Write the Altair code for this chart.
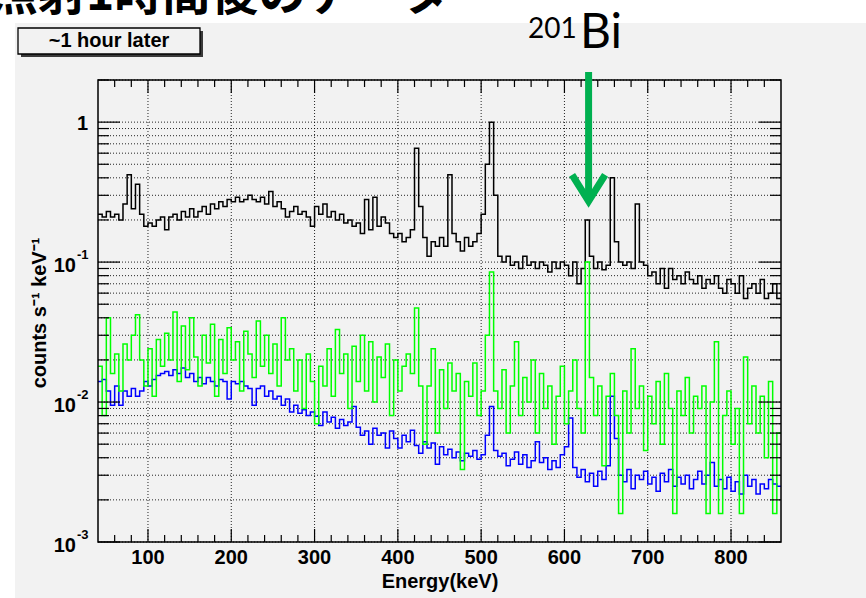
import altair as alt
import pandas as pd

# ---------------- data ----------------
E_START = 40      # keV, left edge of first bin
BIN_W = 5         # keV per bin

black_counts = [
    0.22, 0.21, 0.23, 0.21, 0.22, 0.20, 0.26, 0.42, 0.24, 0.36,
    0.22, 0.18, 0.19, 0.18, 0.20, 0.21, 0.17, 0.21, 0.22, 0.20,
    0.23, 0.21, 0.24, 0.21, 0.23, 0.25, 0.22, 0.26, 0.24, 0.27,
    0.25, 0.28, 0.27, 0.29, 0.27, 0.28, 0.30, 0.28, 0.27, 0.29,
    0.26, 0.32, 0.25, 0.27, 0.24, 0.21, 0.23, 0.25, 0.22, 0.23,
    0.21, 0.18, 0.25, 0.22, 0.26, 0.21, 0.23, 0.20, 0.22, 0.19,
    0.20, 0.18, 0.19, 0.16, 0.28, 0.17, 0.29, 0.18, 0.21, 0.19,
    0.16, 0.15, 0.16, 0.14, 0.15, 0.17, 0.65, 0.25, 0.15, 0.11,
    0.14, 0.13, 0.15, 0.13, 0.42, 0.16, 0.14, 0.12, 0.15, 0.13,
    0.14, 0.16, 0.22, 0.50, 1.00, 0.30, 0.11, 0.10, 0.11, 0.095,
    0.10, 0.09, 0.11, 0.095, 0.10, 0.09, 0.10, 0.095, 0.085, 0.10,
    0.09, 0.10, 0.095, 0.08, 0.10, 0.07, 0.09, 0.20, 0.11, 0.09,
    0.10, 0.088, 0.095, 0.40, 0.14, 0.10, 0.095, 0.10, 0.09, 0.26,
    0.10, 0.095, 0.08, 0.085, 0.07, 0.09, 0.065, 0.09, 0.075, 0.08,
    0.07, 0.085, 0.075, 0.07, 0.08, 0.065, 0.075, 0.07, 0.08, 0.065,
    0.06, 0.075, 0.07, 0.06, 0.08, 0.055, 0.065, 0.07, 0.06, 0.075,
    0.055, 0.06, 0.07, 0.055,
]

green_counts = [
    0.018, 0.008, 0.04, 0.016, 0.022, 0.012, 0.026, 0.02, 0.03, 0.042,
    0.02, 0.013, 0.024, 0.011, 0.028, 0.018, 0.031, 0.02, 0.044, 0.014,
    0.035, 0.017, 0.04, 0.021, 0.013, 0.03, 0.019, 0.036, 0.011, 0.028,
    0.016, 0.034, 0.02, 0.027, 0.012, 0.032, 0.022, 0.015, 0.038, 0.018,
    0.03, 0.016, 0.026, 0.013, 0.04, 0.02, 0.024, 0.012, 0.02, 0.009,
    0.022, 0.014, 0.007, 0.018, 0.013, 0.024, 0.011, 0.033, 0.016, 0.022,
    0.009, 0.025, 0.014, 0.03, 0.012, 0.027, 0.01, 0.021, 0.015, 0.026,
    0.008, 0.02, 0.012, 0.018, 0.022, 0.016, 0.047, 0.013, 0.005, 0.013,
    0.024, 0.006, 0.017, 0.009, 0.019, 0.012, 0.016, 0.0033, 0.014, 0.011,
    0.019, 0.008, 0.012, 0.03, 0.085, 0.012, 0.009, 0.017, 0.006, 0.013,
    0.027, 0.008, 0.015, 0.01, 0.02, 0.006, 0.016, 0.009, 0.013, 0.005,
    0.011, 0.018, 0.007, 0.012, 0.02, 0.009, 0.006, 0.1, 0.015, 0.008,
    0.013, 0.0035, 0.011, 0.016, 0.008, 0.0016, 0.012, 0.006, 0.024, 0.009,
    0.013, 0.0045, 0.011, 0.007, 0.014, 0.005, 0.016, 0.009, 0.0016, 0.012,
    0.008, 0.015, 0.006, 0.011, 0.009, 0.013, 0.0016, 0.01, 0.027, 0.0016,
    0.008, 0.012, 0.005, 0.009, 0.0016, 0.021, 0.007, 0.013, 0.006, 0.011,
    0.004, 0.014, 0.0016, 0.006,
]

blue_counts = [
    0.014, 0.0145, 0.012, 0.0095, 0.013, 0.0095, 0.012, 0.011, 0.0125, 0.011,
    0.012, 0.014, 0.013, 0.0145, 0.0155, 0.016, 0.0165, 0.0155, 0.017, 0.016,
    0.0175, 0.015, 0.016, 0.014, 0.015, 0.0135, 0.015, 0.014, 0.013, 0.0145,
    0.014, 0.0105, 0.014, 0.0135, 0.014, 0.013, 0.0125, 0.0095, 0.0125, 0.013,
    0.011, 0.012, 0.0105, 0.011, 0.0095, 0.0105, 0.0085, 0.0095, 0.0083, 0.0088,
    0.008, 0.0085, 0.0079, 0.0068, 0.0085, 0.0072, 0.0078, 0.0065, 0.0075, 0.0068,
    0.0072, 0.0093, 0.0066, 0.0058, 0.0062, 0.005, 0.0065, 0.0058, 0.006, 0.0047,
    0.0062, 0.0055, 0.0047, 0.0058, 0.0052, 0.0063, 0.0049, 0.0043, 0.0052, 0.0047,
    0.0051, 0.0036, 0.0048, 0.0042, 0.0046, 0.004, 0.0044, 0.0038, 0.0043, 0.0041,
    0.0045, 0.0039, 0.0042, 0.0058, 0.0093, 0.0045, 0.0041, 0.0043, 0.0035, 0.0039,
    0.0044, 0.0036, 0.0042, 0.0034, 0.0038, 0.0052, 0.0037, 0.004, 0.0033, 0.0038,
    0.0034, 0.0042, 0.0048, 0.0077, 0.0034, 0.0029, 0.0033, 0.0027, 0.0031, 0.0025,
    0.0032, 0.0028, 0.0035, 0.011, 0.0055, 0.003, 0.0027, 0.0033, 0.0024, 0.003,
    0.0028, 0.0032, 0.0026, 0.0029, 0.0023, 0.0031, 0.0027, 0.0033, 0.0025, 0.0029,
    0.0026, 0.003, 0.0024, 0.0028, 0.0032, 0.0026, 0.003, 0.0037, 0.0025, 0.0028,
    0.0024, 0.0029, 0.0023, 0.0027, 0.0022, 0.003, 0.0025, 0.0028, 0.0022, 0.0026,
    0.0024, 0.0028, 0.0026, 0.0025,
]

x_major = [100, 200, 300, 400, 500, 600, 700, 800]
x_labels = ["100", "200", "300", "400", "500", "600", "700", "800"]
x_minor = [60, 80, 120, 140, 160, 180, 220, 240, 260, 280, 320, 340, 360, 380,
           420, 440, 460, 480, 520, 540, 560, 580, 620, 640, 660, 680,
           720, 740, 760, 780, 820, 840]
y_decades = [0.001, 0.01, 0.1, 1]
y_minor = [0.002, 0.003, 0.004, 0.005, 0.006, 0.007, 0.008, 0.009,
           0.02, 0.03, 0.04, 0.05, 0.06, 0.07, 0.08, 0.09,
           0.2, 0.3, 0.4, 0.5, 0.6, 0.7, 0.8, 0.9, 2]
y_label_vals = [0.001, 0.01, 0.1]
y_label_base = ["10", "10", "10"]
y_label_exp = ["-3", "-2", "-1"]
bi_line_keV = [629]

# ---------------- layout ----------------
W, H = 683, 462
PAD_L, PAD_T, PAD_R, PAD_B = 98, 80, 85, 56
PAD_GRAY = "#f2f2f2"
FONT = "Liberation Sans"

xs = alt.Scale(domain=[40, 860], nice=False, zero=False)
ys = alt.Scale(type="log", domain=[0.001, 2], nice=False)


def hist_df(vals):
    edges = [E_START + BIN_W * i for i in range(len(vals) + 1)]
    return pd.DataFrame({"E": edges, "v": list(vals) + [vals[-1]]})


one = pd.DataFrame({"a": [0]})

bg = alt.Chart(one).mark_rect(color=PAD_GRAY).encode(
    x=alt.value(15 - PAD_L), x2=alt.value(866 - PAD_L),
    y=alt.value(23 - PAD_T), y2=alt.value(598 - PAD_T))

hgrid = alt.Chart(pd.DataFrame({"y": y_minor + y_decades})).mark_rule(
    color="#000", strokeWidth=1, strokeDash=[1, 2], opacity=0.85).encode(
    y=alt.Y("y:Q", scale=ys, axis=None), x=alt.value(0), x2=alt.value(W))

vgrid = alt.Chart(pd.DataFrame({"x": x_major})).mark_rule(
    color="#000", strokeWidth=1, strokeDash=[1, 2], opacity=0.85).encode(
    x=alt.X("x:Q", scale=xs, axis=None), y=alt.value(0), y2=alt.value(H))


def spectrum(vals, color):
    return alt.Chart(hist_df(vals)).mark_line(
        interpolate="step-after", color=color, strokeWidth=1.5, clip=True).encode(
        x=alt.X("E:Q", scale=xs, axis=None),
        y=alt.Y("v:Q", scale=ys, axis=None))


black = spectrum(black_counts, "#000000")
blue = spectrum(blue_counts, "#0000ff")
green = spectrum(green_counts, "#00ff00")


def xticks(vals, y0, y1):
    return alt.Chart(pd.DataFrame({"x": vals})).mark_rule(color="#000", strokeWidth=1.2).encode(
        x=alt.X("x:Q", scale=xs, axis=None), y=alt.value(y0), y2=alt.value(y1))


def yticks(vals, x0, x1):
    return alt.Chart(pd.DataFrame({"y": vals})).mark_rule(color="#000", strokeWidth=1.2).encode(
        y=alt.Y("y:Q", scale=ys, axis=None), x=alt.value(x0), x2=alt.value(x1))


ticks = [
    xticks(x_major, H, H - 13), xticks(x_minor, H, H - 7),
    xticks(x_major, 0, 13), xticks(x_minor, 0, 7),
    yticks(y_decades, 0, 22), yticks(y_minor, 0, 11),
    yticks(y_decades, W, W - 22), yticks(y_minor, W, W - 11),
]

xlab = alt.Chart(pd.DataFrame({"x": x_major, "t": x_labels})).mark_text(
    font=FONT, fontWeight="bold", fontSize=20, align="center", baseline="alphabetic",
    color="#000").encode(
    x=alt.X("x:Q", scale=xs, axis=None), y=alt.value(564 - PAD_T), text="t:N")

ylab_df = pd.DataFrame({"v": y_label_vals, "b": y_label_base, "e": y_label_exp})
ylab_base = alt.Chart(ylab_df).mark_text(
    font=FONT, fontWeight="bold", fontSize=20, align="right", baseline="alphabetic",
    dy=9.5, color="#000").encode(
    y=alt.Y("v:Q", scale=ys, axis=None), x=alt.value(76 - PAD_L), text="b:N")
ylab_exp = alt.Chart(ylab_df).mark_text(
    font=FONT, fontWeight="bold", fontSize=13, align="left", baseline="alphabetic",
    dy=-3, color="#000").encode(
    y=alt.Y("v:Q", scale=ys, axis=None), x=alt.value(77 - PAD_L), text="e:N")
ylab_one = alt.Chart(pd.DataFrame({"v": [1], "t": ["1"]})).mark_text(
    font=FONT, fontWeight="bold", fontSize=20, align="right", baseline="alphabetic",
    dy=8, color="#000").encode(
    y=alt.Y("v:Q", scale=ys, axis=None), x=alt.value(88 - PAD_L), text="t:N")

xtitle = alt.Chart(one).mark_text(
    text="Energy(keV)", font=FONT, fontWeight="bold", fontSize=20, align="center",
    baseline="alphabetic", color="#000").encode(
    x=alt.value(440 - PAD_L), y=alt.value(588 - PAD_T))

ytitle = alt.Chart(one).mark_text(
    text="counts s\u207b\u00b9 keV\u207b\u00b9", font=FONT, fontWeight="bold", fontSize=20,
    align="center", baseline="middle", angle=270, color="#000").encode(
    x=alt.value(40 - PAD_L), y=alt.value(313 - PAD_T))

frame = alt.Chart(one).mark_rect(filled=False, color="#000", strokeWidth=1.5).encode(
    x=alt.value(0), x2=alt.value(W), y=alt.value(0), y2=alt.value(H))

# "~1 hour later" pave with shadow
shadow = alt.Chart(one).mark_rect(color="#3a3a3a").encode(
    x=alt.value(21 - PAD_L), x2=alt.value(203 - PAD_L),
    y=alt.value(31 - PAD_T), y2=alt.value(57 - PAD_T))
pave = alt.Chart(one).mark_rect(fill=PAD_GRAY, stroke="#000", strokeWidth=1.3).encode(
    x=alt.value(18 - PAD_L), x2=alt.value(200 - PAD_L),
    y=alt.value(28 - PAD_T), y2=alt.value(54 - PAD_T))
pave_text = alt.Chart(one).mark_text(
    text="~1 hour later", font=FONT, fontWeight="bold", fontSize=20, align="center",
    baseline="middle", color="#000").encode(
    x=alt.value(109 - PAD_L), y=alt.value(41 - PAD_T))

# Japanese slide title (top half cut off by the page edge, as in the slide)
jp_title = alt.Chart(one).mark_text(
    text="照射1時間後のデータ", font="Noto Sans CJK JP", fontWeight="bold", fontSize=48,
    align="left", baseline="alphabetic", color="#000").encode(
    x=alt.value(-10 - PAD_L), y=alt.value(10 - PAD_T))

# green arrow marking the 201Bi line
ARROW = "#00b050"
arrow_df = pd.DataFrame({"E": bi_line_keV})
shaft = alt.Chart(arrow_df).mark_rule(color=ARROW, strokeWidth=7).encode(
    x=alt.X("E:Q", scale=xs, axis=None), y=alt.value(72 - PAD_T), y2=alt.value(197 - PAD_T))
head = alt.Chart(arrow_df).mark_point(
    shape="M -1 -0.8 L 0 0.8 L 1 -0.8", filled=False, size=1089, strokeWidth=7,
    color=ARROW, opacity=1, strokeJoin="miter").encode(
    x=alt.X("E:Q", scale=xs, axis=None), y=alt.value(188 - PAD_T))
bi_mass = alt.Chart(one).mark_text(
    text="201", font="Lato", fontSize=28, align="left", baseline="alphabetic",
    color="#000").encode(x=alt.value(528 - PAD_L), y=alt.value(38 - PAD_T))
bi_sym = alt.Chart(one).mark_text(
    text="Bi", font="Lato", fontSize=48, align="left", baseline="alphabetic",
    color="#000").encode(x=alt.value(580 - PAD_L), y=alt.value(48 - PAD_T))

chart = alt.layer(
    bg, hgrid, vgrid, black, blue, green, *ticks, frame,
    xlab, ylab_base, ylab_exp, ylab_one, xtitle, ytitle,
    shadow, pave, pave_text, jp_title, shaft, head, bi_mass, bi_sym,
).properties(
    width=W, height=H,
    autosize=alt.AutoSizeParams(type="none"),
    padding={"left": PAD_L, "top": PAD_T, "right": PAD_R, "bottom": PAD_B},
).configure(background="white").configure_view(stroke="transparent")

chart.save("out.html", embed_options={"renderer": "svg", "actions": False})
